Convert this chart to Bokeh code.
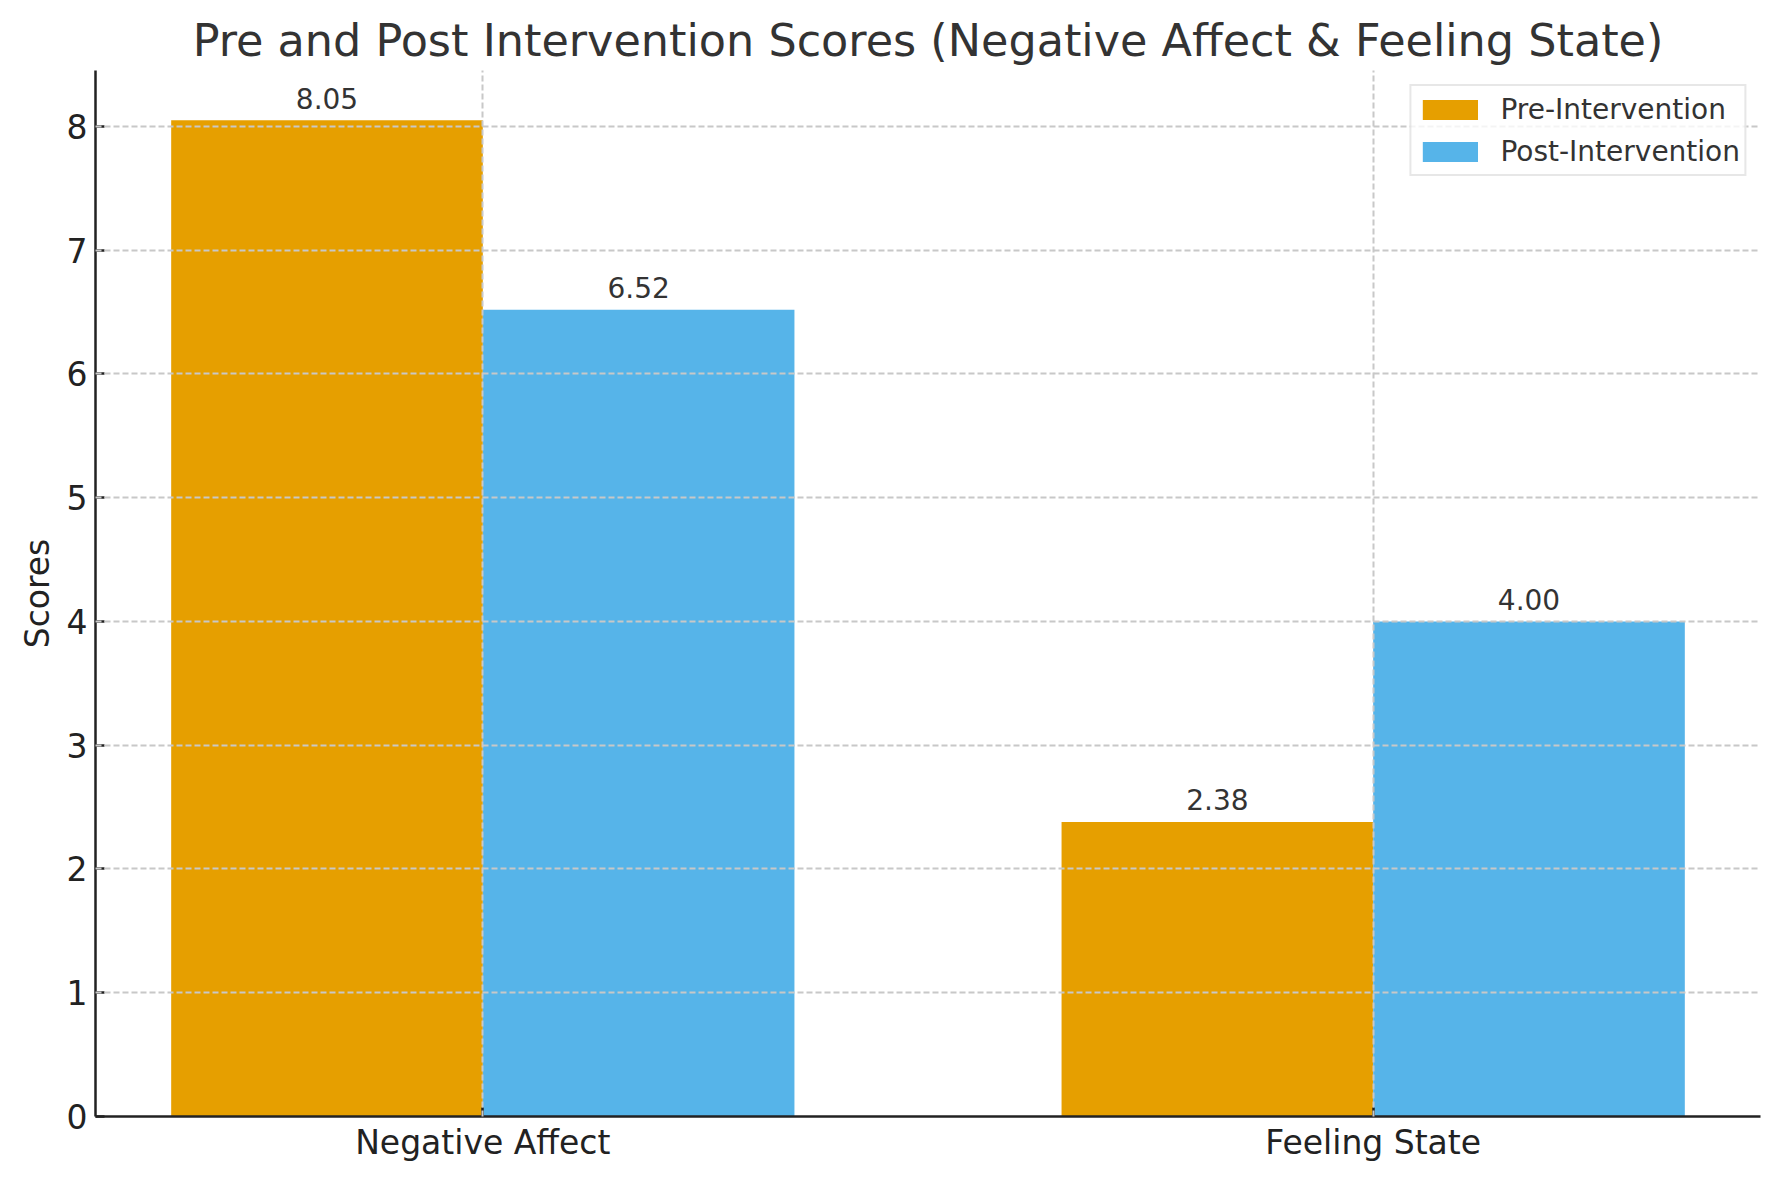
from bokeh.plotting import figure
from bokeh.models import ColumnDataSource, FixedTicker, Range1d
from bokeh.embed import file_html
from bokeh.resources import INLINE
from bokeh.core.properties import value

categories = ["Negative Affect", "Feeling State"]
pre_scores = [8.05, 2.38]
post_scores = [6.52, 4.00]
series_names = ["Pre-Intervention", "Post-Intervention"]
colors = ["#E69F00", "#56B4E9"]
y_ticks = [0, 1, 2, 3, 4, 5, 6, 7, 8]
bar_width = 0.35

FONT = "DejaVu Sans"

idx = list(range(len(categories)))
pre_x = [i - bar_width / 2 for i in idx]
post_x = [i + bar_width / 2 for i in idx]

xmin = min(pre_x) - bar_width / 2
xmax = max(post_x) + bar_width / 2
xpad = 0.05 * (xmax - xmin)
ymax = max(pre_scores + post_scores)

p = figure(
    width=1763, height=1164,
    output_backend="svg", toolbar_location=None,
    x_range=Range1d(xmin - xpad, xmax + xpad),
    y_range=Range1d(0, ymax * 1.05),
    min_border_left=95, min_border_right=3,
    min_border_top=70, min_border_bottom=48,
    title="Pre and Post Intervention Scores (Negative Affect & Feeling State)",
)
p.background_fill_color = "white"
p.border_fill_color = "white"
p.outline_line_color = None

# title
p.title.text_font = FONT
p.title.text_font_size = "44.5px"
p.title.text_font_style = "normal"
p.title.text_color = "#333333"
p.title.align = "center"
p.title.standoff = 9

pre_src = ColumnDataSource(dict(x=pre_x, top=pre_scores,
                                lab=[f"{v:.2f}" for v in pre_scores]))
post_src = ColumnDataSource(dict(x=post_x, top=post_scores,
                                 lab=[f"{v:.2f}" for v in post_scores]))

p.vbar(x="x", top="top", bottom=0, width=bar_width, source=pre_src,
       fill_color=colors[0], line_color=None, legend_label=series_names[0])
p.vbar(x="x", top="top", bottom=0, width=bar_width, source=post_src,
       fill_color=colors[1], line_color=None, legend_label=series_names[1])

for src in (pre_src, post_src):
    p.text(x="x", y="top", text="lab", source=src,
           text_align="center", text_baseline="alphabetic", y_offset=-22,
           text_font=value(FONT), text_font_size="28px", text_color="#333333")

# axes
p.xaxis.ticker = FixedTicker(ticks=idx)
p.xaxis.major_label_overrides = {i: c for i, c in zip(idx, categories)}
p.yaxis.ticker = FixedTicker(ticks=y_ticks)
p.yaxis.axis_label = "Scores"

for ax in (p.xaxis, p.yaxis):
    ax.axis_line_color = "#222222"
    ax.axis_line_width = 2.5
    ax.major_tick_line_color = "#222222"
    ax.major_tick_line_width = 2.5
    ax.major_tick_in = 9
    ax.major_tick_out = 0
    ax.minor_tick_line_color = None
    ax.major_label_text_font = FONT
    ax.major_label_text_font_size = "33px"
    ax.major_label_text_color = "#222222"
    ax.axis_label_text_font = FONT
    ax.axis_label_text_font_size = "33px"
    ax.axis_label_text_font_style = "normal"
    ax.axis_label_text_color = "#222222"

p.xaxis.major_label_standoff = 6
p.yaxis.major_label_standoff = 8
p.yaxis.axis_label_standoff = 7

# grid (drawn over bars, dashed)
p.ygrid.ticker = FixedTicker(ticks=y_ticks[1:])
for g in (p.xgrid, p.ygrid):
    g.grid_line_color = "#c8c8c8"
    g.grid_line_width = 2
    g.grid_line_dash = "6 3"
    g.level = "guide"

# legend
lg = p.legend[0]
lg.location = "top_right"
lg.margin = 14
lg.padding = 4
lg.spacing = 4
lg.glyph_width = 69
lg.glyph_height = 25
lg.label_height = 38
lg.label_standoff = 16
lg.label_text_font = FONT
lg.label_text_font_size = "28px"
lg.label_text_color = "#333333"
lg.border_line_color = "#d0d0d0"
lg.border_line_width = 2
lg.background_fill_color = "white"
lg.background_fill_alpha = 0.8

open("out.html", "w").write(file_html(p, INLINE))
